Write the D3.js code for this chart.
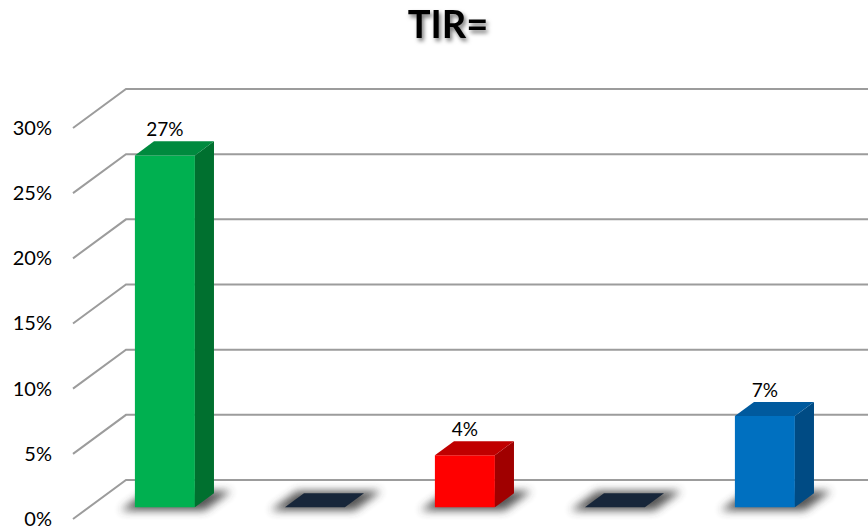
<!DOCTYPE html>
<html>
<head>
<meta charset="utf-8">
<script src="https://cdn.jsdelivr.net/npm/d3@7"></script>
<style>
  html, body { margin: 0; padding: 0; background: #fff; }
  svg { display: block; }
  text { font-family: Lato, "Open Sans", sans-serif; }
</style>
</head>
<body>
<svg id="chart" width="868" height="531"></svg>
<script>
// Chart values
const categories = ["c1", "c2", "c3", "c4", "c5"];
const values = [0.27, 0, 0.04, 0, 0.07];
const yTicks = [0, 0.05, 0.10, 0.15, 0.20, 0.25, 0.30];
const chartTitle = "TIR=";

// Face colours per bar: front, top, side
const frontColors = ["#00b050", "#17263a", "#ff0000", "#17263a", "#0070c0"];
const topColors   = ["#008a3e", "#17263a", "#c00000", "#17263a", "#005a9e"];
const sideColors  = ["#00702f", "#17263a", "#a00000", "#17263a", "#004b84"];

const W = 868, H = 531;
const svg = d3.select("#chart");

// Oblique projection: z = 0 at the front edge of the floor, z = 1 at the back wall
const DX = 53, DY = 39;
const wallX = 73;
const y = d3.scaleLinear().domain([0, 0.30]).range([480, 89]);   // back-wall heights
const x = d3.scaleBand().domain(categories).range([74, 824])
  .paddingInner(0.6).paddingOuter(0.3);
const P = (xw, v, z) => [xw + z * DX, y(v) + (1 - z) * DY];
const zFront = 0.30, zBack = 0.66;

const defs = svg.append("defs");
defs.append("filter").attr("id", "soft").attr("x", "-50%").attr("y", "-200%")
  .attr("width", "200%").attr("height", "500%")
  .append("feGaussianBlur").attr("stdDeviation", 4);
const ts = defs.append("filter").attr("id", "titleShadow")
  .attr("x", "-20%").attr("y", "-30%").attr("width", "140%").attr("height", "160%");
ts.append("feDropShadow").attr("dx", 2).attr("dy", 3).attr("stdDeviation", 2)
  .attr("flood-color", "#000").attr("flood-opacity", 0.55);

// Title
svg.append("text")
  .attr("x", 448).attr("y", 38)
  .attr("text-anchor", "middle")
  .attr("font-size", 38).attr("font-weight", 700)
  .attr("filter", "url(#titleShadow)")
  .text(chartTitle);

// Gridlines: diagonal on the side wall, then horizontal across the back wall
const line = d3.line();
svg.append("g").selectAll("path").data(yTicks).join("path")
  .attr("d", v => line([P(wallX, v, 0), P(wallX, v, 1), [W + 5, y(v)]]))
  .attr("fill", "none").attr("stroke", "#9c9c9c").attr("stroke-width", 2);

// Value axis labels at the front edge of the side wall
const yFront = y.copy().range(y.range().map(r => r + DY));
svg.append("g")
  .attr("transform", `translate(${wallX - 10},0)`)
  .call(d3.axisLeft(yFront).tickValues(yTicks).tickFormat(d3.format(".0%"))
    .tickSize(0).tickPadding(11))
  .call(g => g.select(".domain").remove())
  .selectAll("text")
  .attr("font-family", "Lato, 'Open Sans', sans-serif")
  .attr("font-size", 20).attr("fill", "#000");

const data = categories.map((c, i) => ({ c, v: values[i], i }));
const poly = pts => "M" + pts.map(p => p.join(",")).join("L") + "Z";

// Soft floor shadows
svg.append("g").selectAll("path").data(data).join("path")
  .attr("d", d => {
    const x0 = x(d.c) - 10, x1 = x(d.c) + x.bandwidth() + 14;
    return poly([P(x0, 0, 0.22), P(x1, 0, 0.22), P(x1, 0, 0.72), P(x0, 0, 0.72)]);
  })
  .attr("fill", "#3a3a3a").attr("opacity", 0.85)
  .attr("filter", "url(#soft)");

// 3D bars
const bars = svg.append("g").selectAll("g").data(data).join("g");
bars.each(function(d) {
  const g = d3.select(this);
  const x0 = x(d.c), x1 = x0 + x.bandwidth();
  if (d.v > 0) {
    g.append("path")
      .attr("d", poly([P(x0, 0, zFront), P(x1, 0, zFront), P(x1, d.v, zFront), P(x0, d.v, zFront)]))
      .attr("fill", frontColors[d.i]);
    g.append("path")
      .attr("d", poly([P(x1, 0, zFront), P(x1, 0, zBack), P(x1, d.v, zBack), P(x1, d.v, zFront)]))
      .attr("fill", sideColors[d.i]);
  }
  g.append("path")
    .attr("d", poly([P(x0, d.v, zFront), P(x1, d.v, zFront), P(x1, d.v, zBack), P(x0, d.v, zBack)]))
    .attr("fill", topColors[d.i]);
});

// Value labels above the non-zero bars
svg.append("g").selectAll("text").data(data.filter(d => d.v > 0)).join("text")
  .attr("x", d => P(x(d.c), 0, zFront)[0] + x.bandwidth() / 2)
  .attr("y", d => P(0, d.v, zBack)[1] - 5)
  .attr("text-anchor", "middle")
  .attr("font-size", 19).attr("fill", "#000")
  .text(d => d3.format(".0%")(d.v));
</script>
</body>
</html>
